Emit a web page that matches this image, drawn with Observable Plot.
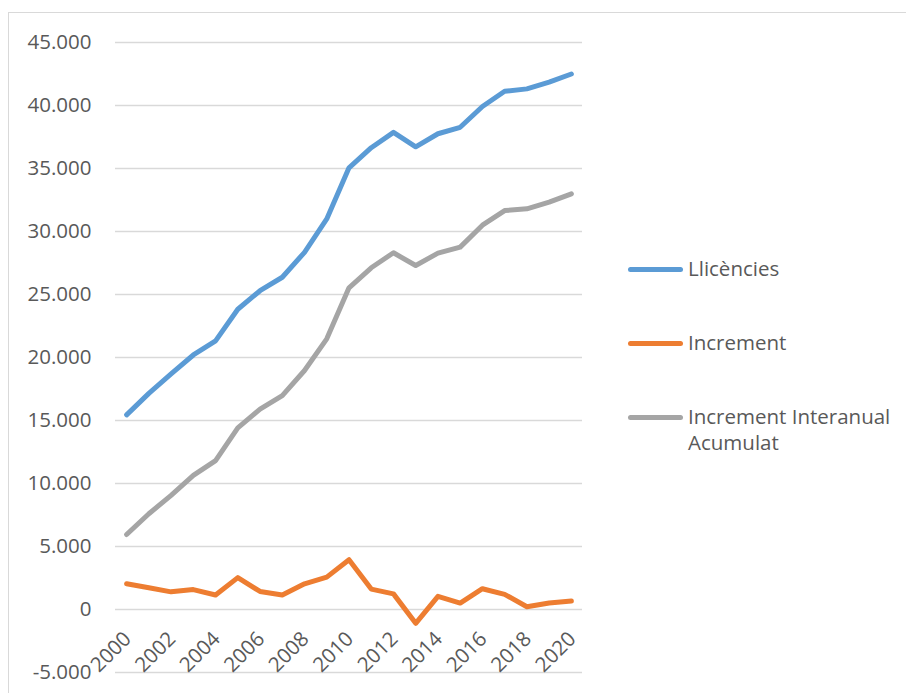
<!DOCTYPE html>
<html>
<head>
<meta charset="utf-8">
<script src="https://cdn.jsdelivr.net/npm/d3@7"></script>
<script src="https://cdn.jsdelivr.net/npm/@observablehq/plot@0.6"></script>
<style>
  html, body { margin: 0; padding: 0; background: #fff; overflow: hidden; }
  #wrap { position: relative; width: 906px; height: 693px; overflow: hidden; }
  #frame { position: absolute; left: 8px; top: 12px; width: 1200px; height: 1200px; border: 1px solid #d9d9d9; box-sizing: border-box; pointer-events: none; }
  #legend { position: absolute; left: 628px; top: 0; font-family: "Open Sans", sans-serif; font-size: 20.5px; color: #595959; }
  .item { position: absolute; left: 0; white-space: nowrap; }
  .sw { position: absolute; left: 0; width: 55px; height: 5px; border-radius: 3px; }
  .lab { position: absolute; left: 60px; line-height: 26px; }
</style>
</head>
<body>
<div id="wrap"><div id="frame"></div><div id="chart"></div><div id="legend"></div></div>
<script>
const years = [2000, 2001, 2002, 2003, 2004, 2005, 2006, 2007, 2008, 2009, 2010, 2011, 2012, 2013, 2014, 2015, 2016, 2017, 2018, 2019, 2020];
const yearLabels = [2000, 2002, 2004, 2006, 2008, 2010, 2012, 2014, 2016, 2018, 2020];
const llicencies = [15450, 17150, 18700, 20200, 21320, 23830, 25300, 26370, 28350, 31000, 35050, 36650, 37870, 36720, 37760, 38270, 39920, 41130, 41320, 41850, 42500];
const increment = [2050, 1720, 1400, 1580, 1150, 2530, 1430, 1150, 2040, 2570, 3950, 1620, 1240, -1100, 1040, 510, 1650, 1200, 220, 520, 670];
const acumulat = [5950, 7600, 9060, 10640, 11820, 14410, 15900, 16980, 18970, 21480, 25530, 27120, 28310, 27300, 28280, 28760, 30500, 31660, 31800, 32330, 32990];
const yTicks = [-5000, 0, 5000, 10000, 15000, 20000, 25000, 30000, 35000, 40000, 45000];

const seriesNames = ["Llicències", "Increment", "Increment Interanual Acumulat"];
const seriesColors = ["#5b9bd5", "#ed7d31", "#a5a5a5"];
const seriesValues = [llicencies, increment, acumulat];

const rows = [];
seriesNames.forEach((name, s) => {
  years.forEach((yr, i) => rows.push({series: name, year: yr, value: seriesValues[s][i]}));
});

const loc = d3.formatLocale({decimal: ",", thousands: ".", grouping: [3], currency: ["", "€"], minus: "-"});
const fmt = loc.format(",");

const chart = Plot.plot({
  width: 906,
  height: 693,
  marginLeft: 115,
  marginRight: 324,
  marginTop: 42,
  marginBottom: 21,
  style: {fontFamily: "Open Sans, sans-serif", fontSize: "20.5px", color: "#595959", background: "transparent"},
  x: {domain: [1999.5, 2020.5], axis: null},
  y: {domain: [-5000, 45000], ticks: yTicks, tickFormat: fmt, tickSize: 0, tickPadding: 24, grid: true, label: null},
  color: {domain: seriesNames, range: seriesColors},
  marks: [
    Plot.gridY(yTicks, {stroke: "#d9d9d9", strokeOpacity: 1, strokeWidth: 1.3}),
    Plot.axisY({ticks: yTicks, tickFormat: fmt, tickSize: 0, tickPadding: 24, label: null, fill: "#595959", fontSize: 20.5}),
    Plot.line(rows, {x: "year", y: "value", z: "series", stroke: "series", strokeWidth: 5, strokeLinejoin: "round", strokeLinecap: "round"}),
    Plot.text(yearLabels, {x: d => d, y: () => 0, text: d => String(d), rotate: -45, textAnchor: "end", dx: 1, dy: 26, fontSize: 20.5, fill: "#595959"})
  ]
});
document.getElementById("chart").appendChild(chart);

const legend = document.getElementById("legend");
const legendY = [269, 343, 417];
seriesNames.forEach((name, i) => {
  const item = document.createElement("div");
  item.className = "item";
  item.style.top = legendY[i] + "px";
  const sw = document.createElement("div");
  sw.className = "sw";
  sw.style.background = seriesColors[i];
  sw.style.top = "-2.5px";
  const lab = document.createElement("div");
  lab.className = "lab";
  lab.style.top = "-14px";
  lab.innerHTML = name === "Increment Interanual Acumulat" ? "Increment Interanual<br>Acumulat" : name;
  item.appendChild(sw);
  item.appendChild(lab);
  legend.appendChild(item);
});
</script>
</body>
</html>
